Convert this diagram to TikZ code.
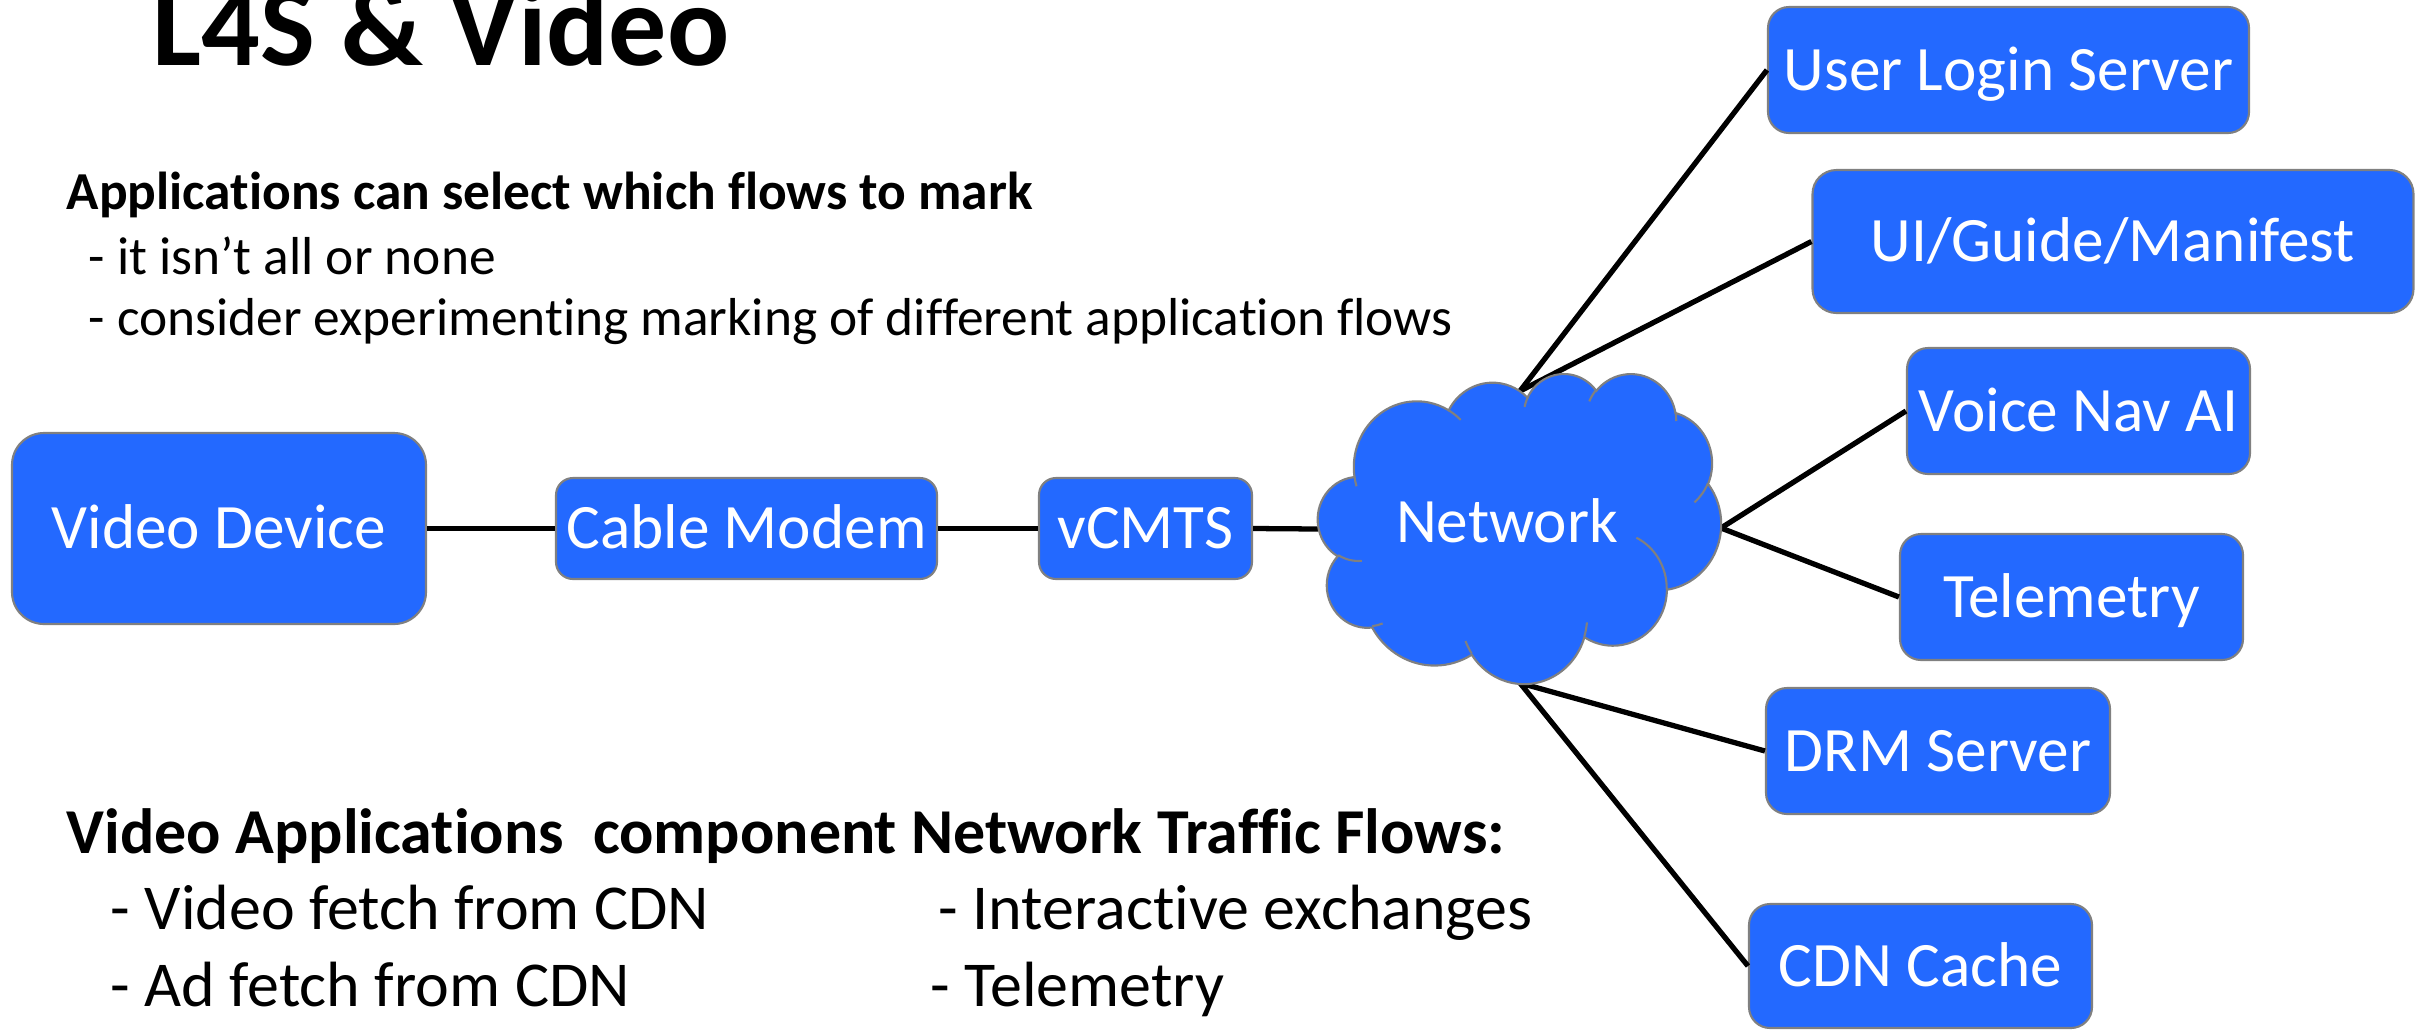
\documentclass[tikz,border=0pt]{standalone}
\usepackage{fontspec}
\setmainfont{Carlito}[Ligatures=NoCommon]
\definecolor{boxblue}{RGB}{35,105,255}
\definecolor{edgegray}{RGB}{128,128,128}
\tikzset{
  box/.style={draw=edgegray, line width=0.6pt, fill=boxblue, text=white,
    font=\fontsize{18pt}{21pt}\selectfont, text height=11.6pt, text depth=0pt,
    inner sep=0pt},
  link/.style={line width=1.5pt, draw=black},
  lbl/.style={anchor=base west, inner sep=0pt, text=black},
  cloudbody/.style={fill=boxblue, draw=edgegray, line width=0.6pt},
  cloudinner/.style={draw=edgegray, line width=0.6pt},
}
\newcommand\cldarc[4]{arc[x radius=#1, y radius=#2,
  start angle={atan2(#1*sin(#3),#2*cos(#3))},
  delta angle={mod(atan2(#1*sin(#3+#4),#2*cos(#3+#4))-atan2(#1*sin(#3),#2*cos(#3))+720,360)}]}
\begin{document}
\begin{tikzpicture}[x=0.1mm, y=-0.1mm]
\useasboundingbox (0,0) rectangle (2422,1029);
\fill[white] (0,0) rectangle (2422,1029);
\clip (0,0) rectangle (2422,1029);

% texts
\node[lbl, font=\bfseries\fontsize{33pt}{40pt}\selectfont] (title) at (152,65) {L4S \& Video};
\node[lbl, font=\bfseries\fontsize{15.2pt}{18pt}\selectfont] (t1) at (66,209) {Applications can select which flows to mark};
\node[lbl, font=\fontsize{15.2pt}{18pt}\selectfont] (t2) at (88,274) {- it isn’t all or none};
\node[lbl, font=\fontsize{15.2pt}{18pt}\selectfont] (t3) at (88,335) {- consider experimenting marking of different application flows};
\node[lbl, font=\bfseries\fontsize{18.2pt}{21pt}\selectfont] (h1) at (66,853) {Video Applications\ \ component Network Traffic Flows:};
\node[lbl, font=\fontsize{18.2pt}{22pt}\selectfont] (f1) at (110,929) {- Video fetch from CDN};
\node[lbl, font=\fontsize{18.2pt}{22pt}\selectfont] (f2) at (110,1006) {- Ad fetch from CDN};
\node[lbl, font=\fontsize{18.2pt}{22pt}\selectfont] (f3) at (938,929) {- Interactive exchanges};
\node[lbl, font=\fontsize{18.2pt}{22pt}\selectfont] (f4) at (930,1006) {- Telemetry};

% boxes
\node[box, minimum width=41.4mm, minimum height=19.1mm, rounded corners=3.2mm] (vd) at (219,528.5) {Video Device};
\node[box, minimum width=38.1mm, minimum height=10.1mm, rounded corners=1.7mm] (cm) at (746.5,528.5) {Cable Modem};
\node[box, minimum width=21.3mm, minimum height=10.1mm, rounded corners=1.7mm] (vc) at (1145.5,528.5) {vCMTS};
\node[box, minimum width=48.1mm, minimum height=12.6mm, rounded corners=2.1mm] (uls) at (2008.5,70) {User Login Server};
\node[box, minimum width=60.1mm, minimum height=14.3mm, rounded corners=2.4mm] (ui) at (2113,241.5) {UI/Guide/Manifest};
\node[box, minimum width=34.3mm, minimum height=12.6mm, rounded corners=2.1mm] (vn) at (2078.5,411) {Voice Nav AI};
\node[box, minimum width=34.3mm, minimum height=12.6mm, rounded corners=2.1mm] (tm) at (2071.5,597) {Telemetry};
\node[box, minimum width=34.4mm, minimum height=12.6mm, rounded corners=2.1mm] (drm) at (1938,751) {DRM Server};
\node[box, minimum width=34.3mm, minimum height=12.4mm, rounded corners=2.1mm] (cdn) at (1920.5,966) {CDN Cache};

% cloud connection points
\coordinate (ctop) at (1520,391);
\coordinate (cright) at (1721,528);
\coordinate (cbot) at (1520,683);
\coordinate (cleft) at (1318,529);

% connectors
\draw[link] (vd.east) -- (cm.west);
\draw[link] (cm.east) -- (vc.west);
\draw[link] (vc.east) -- (cleft);
\draw[link] (ctop) -- (uls.west);
\draw[link] (ctop) -- (ui.west);
\draw[link] (cright) -- (vn.west);
\draw[link] (cright) -- (tm.west);
\draw[link] (cbot) -- (drm.west);
\draw[link] (cbot) -- (cdn.west);

% cloud
\begin{scope}[shift={(131.8mm,-37.3mm)}, x=0.093287mm, y=-0.071759mm]
\path[cloudbody] (39.00,143.70)
  \cldarc{67.53}{91.90}{-190.4875}{123.7805}
  \cldarc{53.33}{72.67}{-144.1024}{89.9452}
  \cldarc{43.65}{59.45}{-145.8079}{99.7230}
  \cldarc{48.57}{65.95}{-130.9861}{117.2417}
  \cldarc{53.33}{72.73}{-78.7089}{109.0269}
  \cldarc{67.75}{92.20}{-46.2673}{130.2690}
  \cldarc{57.85}{78.67}{0.6250}{114.0333}
  \cldarc{67.52}{92.15}{22.4516}{115.1726}
  \cldarc{77.20}{105.43}{66.2426}{75.7110}
  \cldarc{43.60}{59.18}{-274.9421}{146.7356}
  \cldarc{43.45}{59.45}{-246.8285}{152.5189}
  -- cycle;
\path[cloudinner]
  (46.93,261.77) \cldarc{43.45}{59.45}{86.7420}{26.4295}
  (69.28,348.99) \cldarc{43.60}{59.18}{73.6105}{11.4475}
  (164.78,390.90) \cldarc{67.52}{92.15}{137.6242}{14.0811}
  (288.27,347.51) \cldarc{67.52}{92.15}{6.4533}{15.9984}
  (341.29,229.54) \cldarc{57.85}{78.67}{-70.2924}{70.9174}
  (417.98,153.54) \cldarc{53.33}{72.73}{30.3180}{27.7515}
  (383.24,54.26) \cldarc{48.57}{65.95}{-13.7443}{14.8589}
  (290.78,39.52) \cldarc{48.57}{65.95}{-149.1815}{18.1954}
  (221.41,47.20) \cldarc{43.65}{59.45}{-163.4943}{17.6864}
  (140.00,51.92) \cldarc{67.53}{91.90}{-66.7070}{12.3194}
  (41.27,157.89) \cldarc{67.53}{91.90}{157.6544}{11.8582};
\end{scope}
\node[anchor=base, inner sep=0pt, text=white, font=\fontsize{18pt}{21pt}\selectfont] (net) at (1507,542) {Network};
\end{tikzpicture}
\end{document}
